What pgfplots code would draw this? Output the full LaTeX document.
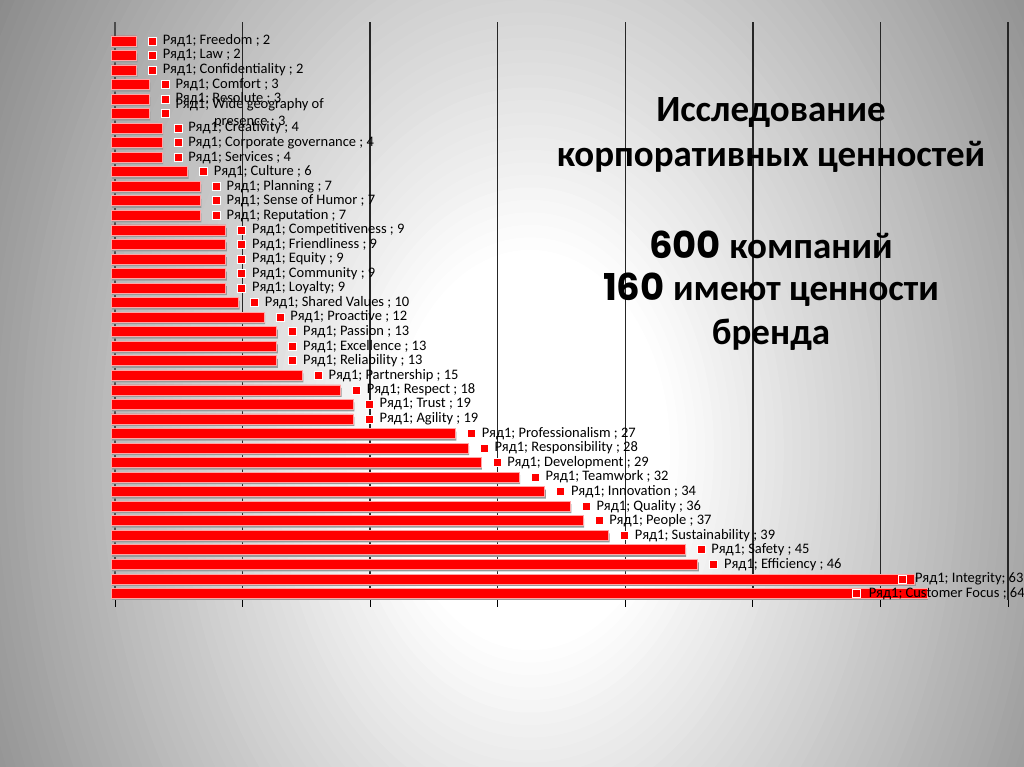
\documentclass[border=0pt]{standalone}
\usepackage{pgfplots}
\pgfplotsset{compat=1.18}
\usepackage{pgfplotstable}
\usepackage{fontspec}
\setmainfont{Carlito}
\newfontfamily\pop{Poppins}

% semicolons and line breaks must not reach pgfplots' point lists raw
\protected\def\sm{;}
\protected\def\nl{\\}

\pgfplotstableread[col sep=comma]{
i,v,lab
38,2,Freedom \sm{} 2
37,2,Law \sm{} 2
36,2,Confidentiality \sm{} 2
35,3,Comfort \sm{} 3
34,3,Resolute \sm{} 3
33,3,Wide geography of\nl presence \sm{} 3
32,4,Creativity \sm{} 4
31,4,Corporate governance \sm{} 4
30,4,Services \sm{} 4
29,6,Culture \sm{} 6
28,7,Planning \sm{} 7
27,7,Sense of Humor \sm{} 7
26,7,Reputation \sm{} 7
25,9,Competitiveness \sm{} 9
24,9,Friendliness \sm{} 9
23,9,Equity \sm{} 9
22,9,Community \sm{} 9
21,9,Loyalty\sm{} 9
20,10,Shared Values \sm{} 10
19,12,Proactive \sm{} 12
18,13,Passion \sm{} 13
17,13,Excellence \sm{} 13
16,13,Reliability \sm{} 13
15,15,Partnership \sm{} 15
14,18,Respect \sm{} 18
13,19,Trust \sm{} 19
12,19,Agility \sm{} 19
11,27,Professionalism \sm{} 27
10,28,Responsibility \sm{} 28
9,29,Development \sm{} 29
8,32,Teamwork \sm{} 32
7,34,Innovation \sm{} 34
6,36,Quality \sm{} 36
5,37,People \sm{} 37
4,39,Sustainability \sm{} 39
3,45,Safety \sm{} 45
2,46,Efficiency \sm{} 46
}\values

\pgfplotstableread[col sep=comma]{
i,v,lab
1,63,Integrity\sm{} 63
}\integ

\pgfplotstableread[col sep=comma]{
i,v,lab
0,64,Customer Focus \sm{} 64
}\cust

\pgfplotsset{
  redbar/.style={xbar, bar width=10pt, fill=red, draw=red!35!white,
    line width=0.7pt, /tikz/xshift=-4pt},
  shadowbar/.style={xbar, bar width=9pt, fill=black!40, draw=none,
    /tikz/xshift=-3pt, /tikz/yshift=-2.5pt},
  lbl/.style 2 args={only marks, mark=square*, mark size=4pt,
    point meta=explicit symbolic,
    mark options={fill=red, draw=white, line width=0.7pt, xshift=#1},
    nodes near coords={Ряд1; \pgfplotspointmeta},
    every node near coord/.append style={anchor=west, xshift=#2,
        align=center, inner sep=0pt, font=\fontsize{14.5}{17}\selectfont}},
}

\begin{document}
\begin{tikzpicture}
\useasboundingbox (0,0) rectangle (1024pt,767pt);
% background: elliptic gray-to-white gradient, built from nested ellipses
\begin{scope}
\clip (0,0) rectangle (1024pt,767pt);
\fill[black!50] (0,0) rectangle (1024pt,767pt);
\foreach \d in {2.0,1.975,...,0.38} {
  \pgfmathsetmacro\k{max(0,min(50,33*(\d-0.4)))}
  \pgfmathsetmacro\rx{350*\d}
  \pgfmathsetmacro\ry{500*\d}
  \fill[black!\k] (530pt,317pt) ellipse [x radius=\rx pt, y radius=\ry pt];
}
\end{scope}

\begin{axis}[
    at={(115pt,167pt)}, anchor=south west,
    scale only axis,
    width=893pt, height=578pt,
    xmin=0, xmax=70,
    ymin=-0.45, ymax=39.3,
    clip=false,
    axis x line*=bottom, axis y line*=left,
    x axis line style={draw=none},
    y axis line style={draw=black!70, line width=2pt, -},
    xtick={0,10,...,70}, xticklabels={},
    ytick=\empty,
    tick align=outside,
    major tick length=7pt,
    xtick style={black, line width=1pt},
    xmajorgrids,
    major grid style={black!85, line width=1.3pt},
]
% bar shadows
\addplot[shadowbar] table[x=v, y=i] {\values};
\addplot[shadowbar] table[x=v, y=i] {\integ};
\addplot[shadowbar] table[x=v, y=i] {\cust};
% bars
\addplot[redbar] table[x=v, y=i] {\values};
\addplot[redbar] table[x=v, y=i] {\integ};
\addplot[redbar] table[x=v, y=i] {\cust};

% data labels with square markers
\addplot[lbl={12pt}{10pt}] table[x=v, y=i, meta=lab] {\values};
\addplot[lbl={-16pt}{12pt}] table[x=v, y=i, meta=lab] {\integ};
\addplot[lbl={-75pt}{12pt}] table[x=v, y=i, meta=lab] {\cust};
\end{axis}

% title block
\begin{scope}[every node/.style={font=\fontsize{37}{42}\selectfont\bfseries, inner sep=0pt}]
\node at (771pt,655pt) {Исследование};
\node at (771pt,610pt) {корпоративных ценностей};
\node at (771pt,522pt) {{\pop 600} компаний};
\node at (771pt,477pt) {{\pop 160} имеют ценности};
\node at (771pt,432pt) {бренда};
\end{scope}
\end{tikzpicture}
\end{document}
